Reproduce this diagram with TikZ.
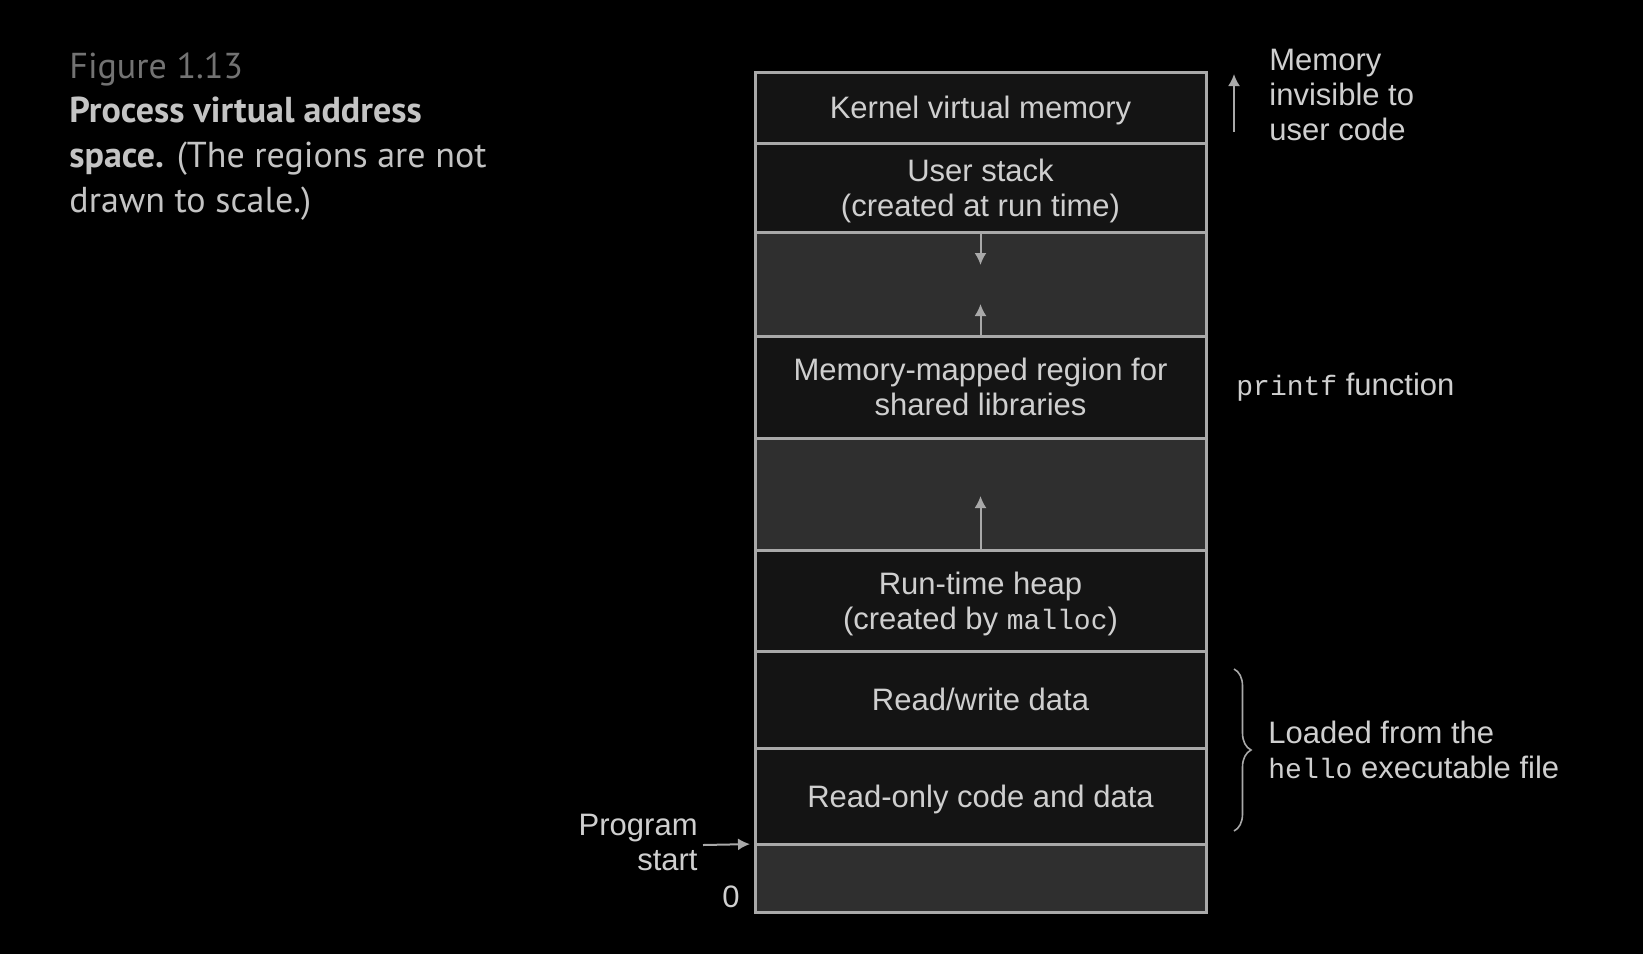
\documentclass[tikz,border=0pt]{standalone}
\usepackage{fontspec}
\setmainfont{Liberation Sans}
\setmonofont{Liberation Mono}
\newfontfamily\capfont{PT Sans}
\usetikzlibrary{positioning,arrows.meta,decorations.pathreplacing}
\definecolor{edgegrey}{HTML}{A9A9A9}
\definecolor{textgrey}{HTML}{CFCFCF}
\definecolor{darkfill}{HTML}{141414}
\definecolor{gapfill}{HTML}{2F2F2F}
\definecolor{figgrey}{HTML}{737373}
\definecolor{capgrey}{HTML}{C4C4C4}
\newcommand{\code}[1]{{\fontsize{14}{17.5}\ttfamily #1}}

\begin{document}
\begin{tikzpicture}[x=0.5pt,y=-0.5pt,>={Latex[length=6pt,width=6pt]},
  seg/.style={rectangle,draw=edgegrey,line width=1.5pt,fill=darkfill,minimum width=225.5pt,inner sep=0pt,outer sep=0pt,align=center,text=textgrey,text depth=0pt},
  gap/.style={seg,fill=gapfill},
  note/.style={text=textgrey,inner sep=0pt},
  pointer/.style={->,draw=edgegrey,line width=1pt}]
	\tikzstyle{every node}=[font=\fontsize{15.5}{17.5}\selectfont]
	\fill[black] (0,0) rectangle (1643,954);
	% caption (base is the last line)
	\node[anchor=base west,align=left,inner sep=0pt,text=capgrey,font=\capfont\fontsize{18}{22.3}\selectfont] (caption) at (69,212)
	  {\textcolor{figgrey}{Figure 1.13}\\\textbf{Process virtual address}\\\textbf{space.} (The regions are not\\drawn to scale.)};
	% regions, top down
	\node[seg,minimum height=35.5pt] (kernel) at (980.5,107.5) {Kernel virtual memory};
	\node[seg,minimum height=44.5pt,below=0pt of kernel] (stack) {User stack\\(created at run time)};
	\node[gap,minimum height=52pt,below=0pt of stack] (gapA) {};
	\node[seg,minimum height=51pt,below=0pt of gapA] (mmap) {Memory-mapped region for\\shared libraries};
	\node[gap,minimum height=56pt,below=0pt of mmap] (gapB) {};
	\node[seg,minimum height=50.5pt,below=0pt of gapB] (heap) {Run-time heap\\(created by \code{malloc})};
	\node[seg,minimum height=48.5pt,below=0pt of heap] (rw) {Read/write data};
	\node[seg,minimum height=48pt,below=0pt of rw] (ro) {Read-only code and data};
	\node[gap,minimum height=34pt,below=0pt of ro] (low) {};
	% growth arrows
	\coordinate (stackgrow) at (980.5,265);
	\coordinate (libgrow) at (980.5,304);
	\coordinate (heapgrow) at (980.5,496);
	\draw[pointer] (stack.south) -- (stackgrow);
	\draw[pointer] (mmap.north) -- (libgrow);
	\draw[pointer] (heap.north) -- (heapgrow);
	% notes on the right
	\coordinate (kbot) at (1234,132);
	\coordinate (ktop) at (1234,74);
	\draw[pointer] (kbot) -- (ktop);
	\node[note,anchor=base west,align=left] (invis) at (1269,140) {Memory\\invisible to\\user code};
	\node[note,anchor=base west] (printf) at (1236,395) {\code{printf} function};
	\coordinate (bracetop) at (1234,669);
	\coordinate (bracebot) at (1234,831);
	\draw[edgegrey,line width=0.8pt,decorate,decoration={brace,amplitude=8.5pt}] (bracetop) -- (bracebot);
	\node[note,anchor=base west,align=left] (loaded) at (1268,778) {Loaded from the\\\code{hello} executable file};
	% program start
	\node[note,anchor=base east,align=right] (start) at (698,870) {Program\\start};
	\coordinate (startfrom) at (703,845);
	\draw[pointer,shorten >=2.5pt] (startfrom) -- (ro.south west);
	\node[note,anchor=base] (zero) at (731,907) {0};
\end{tikzpicture}
\end{document}
